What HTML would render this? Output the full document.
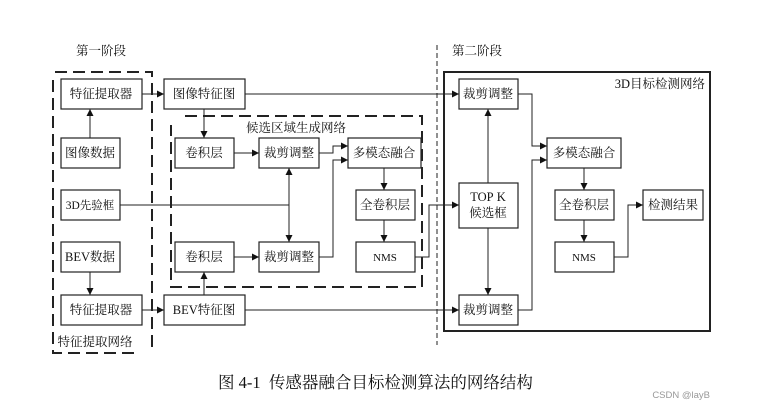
<!DOCTYPE html>
<html><head><meta charset="utf-8"><style>
html,body{margin:0;padding:0;background:#fff;}
svg{display:block;}
text{font-family:"Liberation Serif","Noto Serif CJK SC",serif;font-size:12.5px;fill:#111;}
</style></head><body>
<svg width="763" height="408" viewBox="0 0 763 408" xmlns="http://www.w3.org/2000/svg">
<defs><marker id="a" markerWidth="8" markerHeight="8" refX="7" refY="4" orient="auto" markerUnits="userSpaceOnUse"><path d="M0,0.5 L7,4 L0,7.5 z" fill="#111"/></marker></defs>
<g fill="none" stroke="#222" stroke-width="1.2">
<path d="M55,72 H152 V353 M53,80 V353 H135" stroke-dasharray="12,6" stroke-width="2"/>
<path d="M185,116 H422 V287 H171 V125" stroke-dasharray="12,6" stroke-width="2"/>
<path d="M437,45 V345" stroke-dasharray="5,3" stroke-width="1"/>
<rect x="444" y="72" width="266" height="259" stroke-width="2"/>
<rect x="61" y="79" width="81" height="30"/>
<rect x="61" y="138" width="59" height="30"/>
<rect x="61" y="190" width="59" height="30"/>
<rect x="61" y="242" width="59" height="30"/>
<rect x="61" y="295" width="81" height="30"/>
<rect x="164" y="79" width="81" height="30"/>
<rect x="164" y="295" width="81" height="30"/>
<rect x="175" y="138" width="59" height="30"/>
<rect x="259" y="138" width="60" height="30"/>
<rect x="348" y="138" width="73" height="30"/>
<rect x="356" y="190" width="59" height="30"/>
<rect x="356" y="242" width="59" height="30"/>
<rect x="175" y="242" width="59" height="30"/>
<rect x="259" y="242" width="60" height="30"/>
<rect x="459" y="79" width="59" height="30"/>
<rect x="459" y="183" width="59" height="45"/>
<rect x="459" y="295" width="59" height="30"/>
<rect x="547" y="138" width="74" height="30"/>
<rect x="555" y="190" width="59" height="30"/>
<rect x="555" y="242" width="59" height="30"/>
<rect x="643" y="190" width="60" height="30"/>
</g>
<g fill="none" stroke="#222" stroke-width="1" marker-end="url(#a)">
<path d="M90,138 V109"/>
<path d="M90,272 V295"/>
<path d="M142,94 H164"/>
<path d="M142,310 H164"/>
<path d="M204,109 V138"/>
<path d="M204,295 V272"/>
<path d="M234,153 H259"/>
<path d="M234,257 H259"/>
<path d="M319,153 H333 V146 H348"/>
<path d="M319,257 H333 V160 H348"/>
<path d="M384,168 V190"/>
<path d="M384,220 V242"/>
<path d="M120,205 H289 V168"/>
<path d="M289,205 V242"/>
<path d="M245,94 H459"/>
<path d="M245,310 H459"/>
<path d="M415,257 H429 V205 H459"/>
<path d="M488,183 V109"/>
<path d="M488,228 V295"/>
<path d="M518,94 H532 V146 H547"/>
<path d="M518,310 H532 V160 H547"/>
<path d="M584,168 V190"/>
<path d="M584,220 V242"/>
<path d="M614,257 H628 V205 H643"/>
</g>
<g text-anchor="middle">
<text x="101" y="98">特征提取器</text>
<text x="90" y="157">图像数据</text>
<text x="90" y="209" style="font-size:11.5px">3D先验框</text>
<text x="90" y="261">BEV数据</text>
<text x="101" y="314">特征提取器</text>
<text x="204" y="98">图像特征图</text>
<text x="204" y="314">BEV特征图</text>
<text x="204" y="157">卷积层</text>
<text x="289" y="157">裁剪调整</text>
<text x="384" y="157">多模态融合</text>
<text x="385" y="209">全卷积层</text>
<text x="385" y="261" style="font-size:11px">NMS</text>
<text x="204" y="261">卷积层</text>
<text x="289" y="261">裁剪调整</text>
<text x="488" y="98">裁剪调整</text>
<text x="488" y="201">TOP&#160;K</text>
<text x="488" y="217">候选框</text>
<text x="488" y="314">裁剪调整</text>
<text x="584" y="157">多模态融合</text>
<text x="584" y="209">全卷积层</text>
<text x="584" y="261" style="font-size:11px">NMS</text>
<text x="673" y="209">检测结果</text>
<text x="296" y="132">候选区域生成网络</text>
<text x="101" y="55">第一阶段</text>
<text x="477" y="55">第二阶段</text>
</g>
<text x="95" y="346" text-anchor="middle">特征提取网络</text>
<text x="705" y="88" text-anchor="end">3D目标检测网络</text>
<text x="218" y="388" style="font-size:16.5px">图&#160;4-1&#160;&#160;传感器融合目标检测算法的网络结构</text>
<text x="710" y="398" text-anchor="end" style="font-family:'Liberation Sans',sans-serif;font-size:9.5px;fill:#999">CSDN @layB</text>
</svg>
</body></html>
